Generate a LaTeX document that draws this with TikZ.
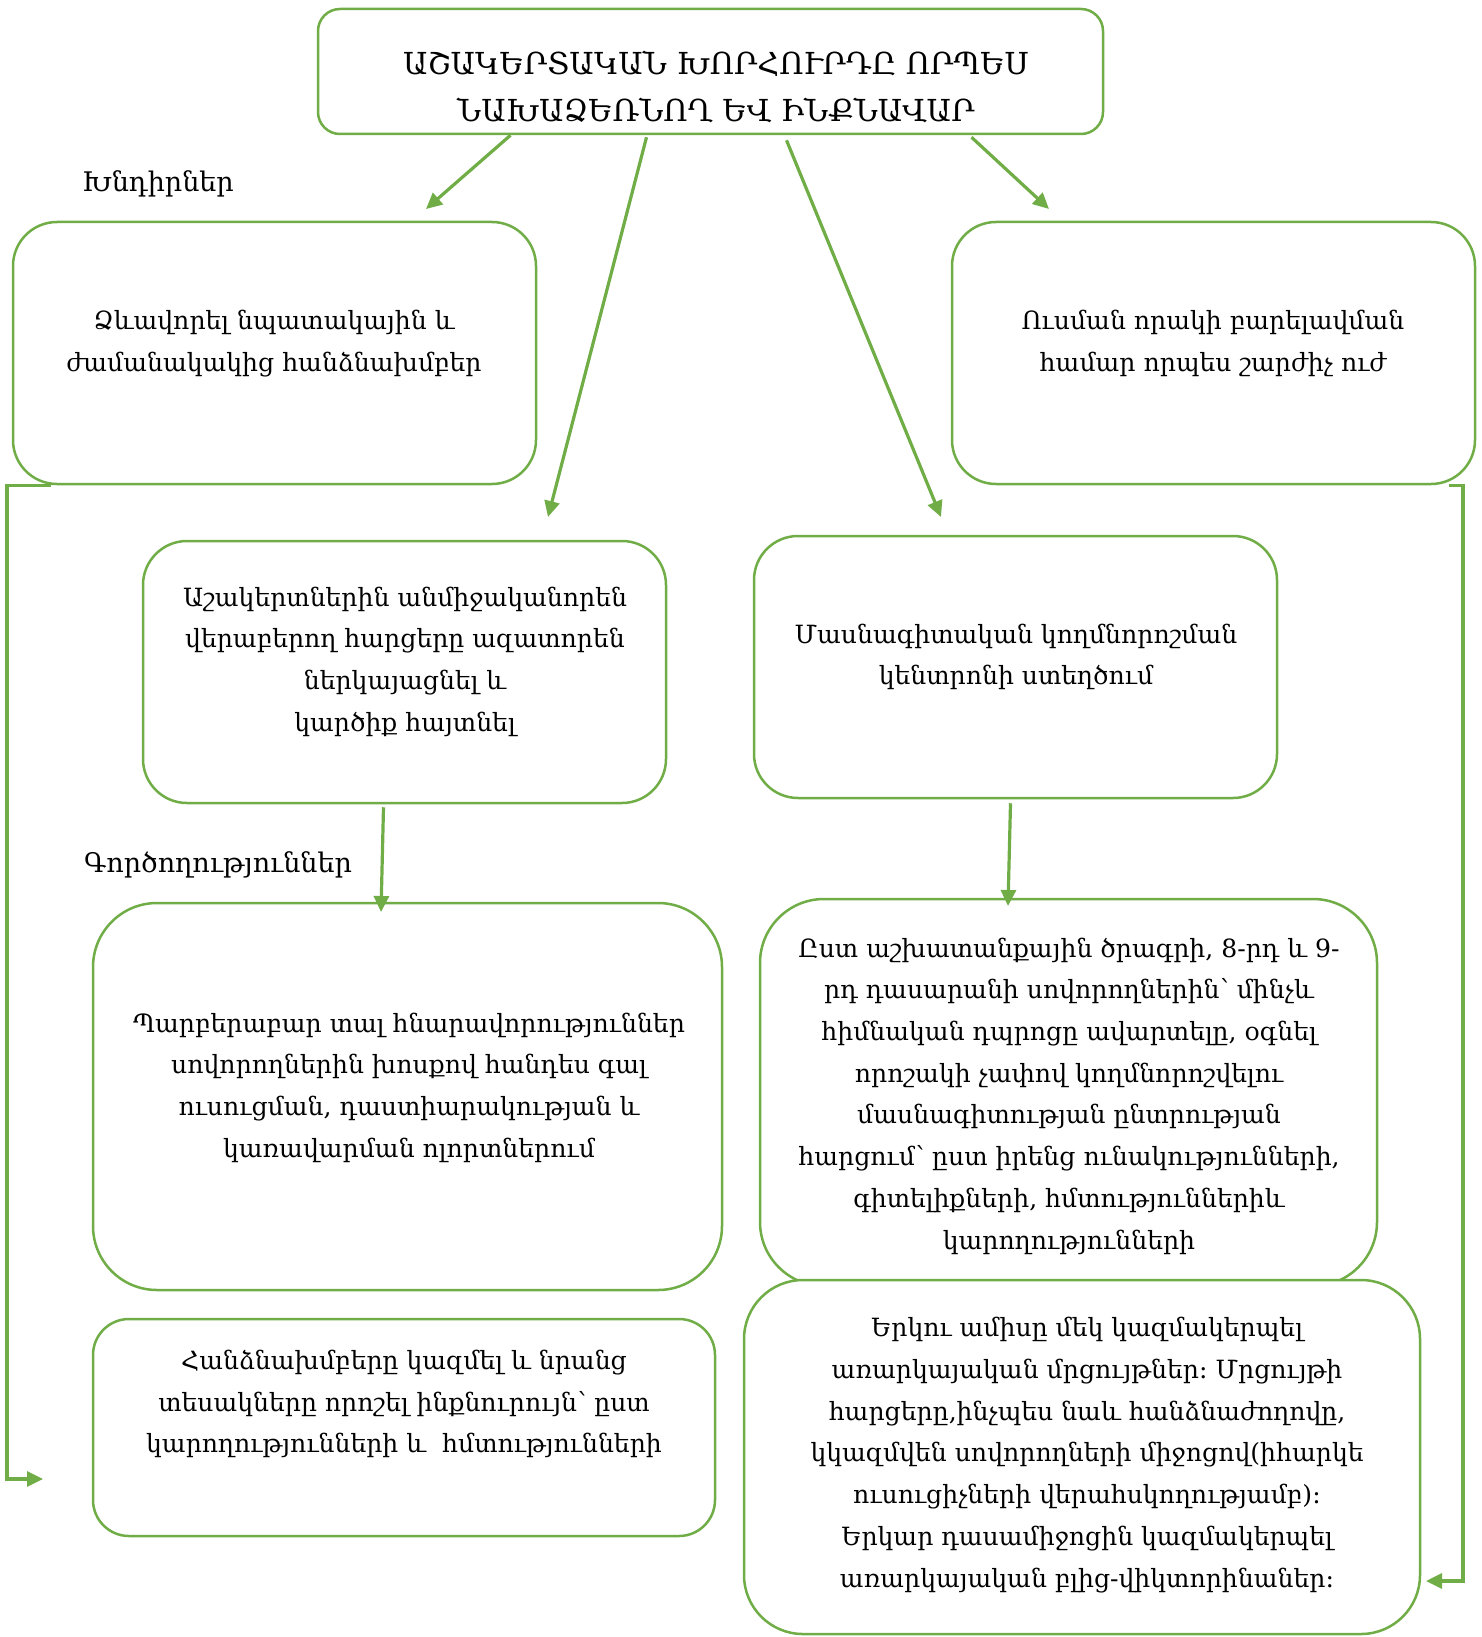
\documentclass[tikz,border=0pt]{standalone}
\usepackage{fontspec}
\setmainfont{DejaVu Serif}
\usetikzlibrary{arrows.meta}
\definecolor{grn}{HTML}{70AD47}
\begin{document}
\begin{tikzpicture}[x=1pt,y=-1pt,
  box/.style={draw=grn, line width=2.5pt, fill=white, inner sep=0pt},
  txt/.style={align=center, inner sep=0pt, font=\fontsize{25.1}{41.7}\selectfont},
  ttl/.style={align=center, inner sep=0pt, font=\fontsize{30.3}{47}\selectfont},
  lbl/.style={inner sep=0pt, font=\fontsize{27}{30}\selectfont},
  conn/.style={draw=grn, line width=3.2pt, -{Triangle[length=16pt,width=15pt]}}]
\useasboundingbox (0,0) rectangle (1481,1637);
% boxes
\node[box, minimum width=785pt, minimum height=125pt, rounded corners=22pt] (top) at (710.5,71.5) {};
\node[box, minimum width=523pt, minimum height=262pt, rounded corners=44pt] (A) at (274.5,353) {};
\node[box, minimum width=523pt, minimum height=262pt, rounded corners=44pt] (B) at (1213.5,353) {};
\node[box, minimum width=523pt, minimum height=262pt, rounded corners=44pt] (C) at (404.5,672) {};
\node[box, minimum width=523pt, minimum height=262pt, rounded corners=44pt] (D) at (1015.5,667) {};
\node[box, minimum width=629pt, minimum height=387pt, rounded corners=64pt] (E) at (407.5,1096.5) {};
\node[box, minimum width=617pt, minimum height=387pt, rounded corners=64pt] (F) at (1068.5,1092.5) {};
\node[box, minimum width=622pt, minimum height=217pt, rounded corners=36pt] (G) at (404,1427.5) {};
\node[box, minimum width=676pt, minimum height=354pt, rounded corners=59pt] (H) at (1082,1457) {};
% texts
\node[ttl] (ttop) at (716,86.5) {ԱՇԱԿԵՐՏԱԿԱՆ ԽՈՐՀՈՒՐԴԸ ՈՐՊԵՍ\\ՆԱԽԱՁԵՌՆՈՂ ԵՎ ԻՆՔՆԱՎԱՐ};
\node[txt] (tA) at (274,343.5) {Ձևավորել նպատակային և\\ժամանակակից հանձնախմբեր};
\node[txt] (tB) at (1213,343.5) {Ուսման որակի բարելավման\\համար որպես շարժիչ ուժ};
\node[txt] (tC) at (405,661.5) {Աշակերտներին անմիջականորեն\\վերաբերող հարցերը ազատորեն\\ներկայացնել և\\կարծիք հայտնել};
\node[txt] (tD) at (1016,657) {Մասնագիտական կողմնորոշման\\կենտրոնի ստեղծում};
\node[txt] (tE) at (409,1087.5) {Պարբերաբար տալ հնարավորություններ\\սովորողներին խոսքով հանդես գալ\\ուսուցման, դաստիարակության և\\կառավարման ոլորտներում};
\node[txt] (tF) at (1069,1096) {Ըստ աշխատանքային ծրագրի, 8-րդ և 9-\\րդ դասարանի սովորողներին՝ մինչև\\հիմնական դպրոցը ավարտելը, օգնել\\որոշակի չափով կողմնորոշվելու\\մասնագիտության ընտրության\\հարցում՝ ըստ իրենց ունակությունների,\\գիտելիքների, հմտություններիև\\կարողությունների};
\node[txt] (tG) at (404,1404) {Հանձնախմբերը կազմել և նրանց\\տեսակները որոշել ինքնուրույն՝ ըստ\\կարողությունների և\ \ հմտությունների};
\node[txt] (tH) at (1087,1455) {Երկու ամիսը մեկ կազմակերպել\\առարկայական մրցույթներ։ Մրցույթի\\հարցերը,ինչպես նաև հանձնաժողովը,\\կկազմվեն սովորողների միջոցով(իհարկե\\ուսուցիչների վերահսկողությամբ)։\\Երկար դասամիջոցին կազմակերպել\\առարկայական բլից-վիկտորինաներ։};
\node[lbl] (l1) at (158,184) {Խնդիրներ};
\node[lbl] (l2) at (218,865) {Գործողություններ};
% arrow end points
\coordinate (e1) at (426,209);
\coordinate (e2) at (548,517);
\coordinate (e3) at (941,517);
\coordinate (e4) at (1049,209);
\coordinate (e5) at (381,912);
\coordinate (e6) at (1008,906);
\coordinate (c1) at (7,1479);
\coordinate (e7) at (43,1479);
\coordinate (c2) at (1463,1581);
\coordinate (e8) at (1426,1581);
% connectors
\draw[conn] ([xshift=-200pt]top.south) -- (e1);
\draw[conn] ([xshift=-64pt,yshift=-2pt]top.south) -- (e2);
\draw[conn] ([xshift=76pt,yshift=-5pt]top.south) -- (e3);
\draw[conn] ([xshift=261pt,yshift=-2pt]top.south) -- (e4);
\draw[conn] ([xshift=-21pt,yshift=-3pt]C.south) -- (e5);
\draw[conn] ([xshift=-5pt,yshift=-4pt]D.south) -- (e6);
\draw[conn] ([xshift=-224pt]A.south) -| (c1) -- (e7);
\draw[conn] ([xshift=235pt]B.south) -| (c2) -- (e8);
\end{tikzpicture}
\end{document}
